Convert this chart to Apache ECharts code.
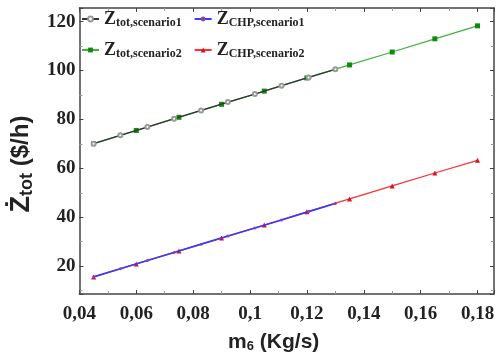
<!DOCTYPE html>
<html>
<head>
<meta charset="utf-8">
<script src="https://cdn.jsdelivr.net/npm/echarts@6/dist/echarts.min.js"></script>
<style>
  html, body { margin: 0; padding: 0; background: #fff; }
  #main { width: 499px; height: 358px; }
</style>
</head>
<body>
<div id="main"></div>
<script>
// m6 values (Kg/s)
var mScen1 = [0.045, 0.0544, 0.0639, 0.0733, 0.0828, 0.0922, 0.1017, 0.1111, 0.1206, 0.13];
var mScen2 = [0.045, 0.06, 0.075, 0.09, 0.105, 0.12, 0.135, 0.15, 0.165, 0.18];

// cost rates ($/h)
var zTotScen1 = [70.1, 73.5, 76.9, 80.3, 83.7, 87.1, 90.4, 93.8, 97.2, 100.5];
var zTotScen2 = [70.1, 75.5, 80.9, 86.2, 91.6, 97.0, 102.3, 107.6, 113.0, 118.3];
var zChpScen1 = [15.6, 18.9, 22.3, 25.6, 29.0, 32.3, 35.6, 38.9, 42.3, 45.6];
var zChpScen2 = [15.6, 20.9, 26.2, 31.5, 36.8, 42.2, 47.5, 52.8, 58.1, 63.3];

var seriesNames = ['Ztot,scenario1', 'ZCHP,scenario1', 'Ztot,scenario2', 'ZCHP,scenario2'];
var subTexts = ['tot,scenario1', 'CHP,scenario1', 'tot,scenario2', 'CHP,scenario2'];

function pairs(xs, ys) {
	var out = [];
	for (var i = 0; i < xs.length; i++) out.push([xs[i], ys[i]]);
	return out;
}

var myChart = echarts.init(document.getElementById('main'));

var serif = '"Liberation Serif", "Times New Roman", serif';
var sans = '"Liberation Sans", Arial, sans-serif';
var frame = '#444';

function xLabel(v) {
	return String(Math.round(v * 100) / 100).replace('.', ',');
}

var axisCommon = {
	axisLine: { show: true, lineStyle: { color: frame, width: 1.5 } },
	axisTick: { show: true, inside: true, length: 4, lineStyle: { color: frame } },
	minorTick: { show: true, splitNumber: 2, length: 3, lineStyle: { color: '#999' } },
	splitLine: { show: false }
};

var option = {
	animation: false,
	backgroundColor: '#fff',
	grid: { left: 75, right: 5, top: 8, bottom: 61 },
	legend: {
		data: seriesNames,
		left: 81,
		top: 10,
		width: 240,
		itemWidth: 17,
		itemHeight: 6,
		itemGap: 12,
		padding: 0,
		formatter: function(name) {
			var i = seriesNames.indexOf(name);
			return '{z|Z}{s|' + subTexts[i] + '}';
		},
		textStyle: {
			rich: {
				z: { fontFamily: serif, fontWeight: 'bold', fontSize: 18, color: '#222', lineHeight: 17 },
				s: { fontFamily: serif, fontWeight: 'bold', fontSize: 12, color: '#222', padding: [8, 0, 0, 0] }
			}
		}
	},
	xAxis: [
		Object.assign({}, axisCommon, {
			type: 'value',
			min: 0.04,
			max: 0.1858,
			interval: 0.02,
			name: '{m|m}{s|6}{m| (Kg/s)}',
			nameLocation: 'middle',
			nameGap: 37,
			nameTextStyle: {
				padding: [0, 26, 0, 0],
				rich: {
					m: { fontFamily: sans, fontWeight: 'bold', fontSize: 21, color: '#222' },
					s: { fontFamily: sans, fontWeight: 'bold', fontSize: 13, color: '#222', padding: [9, 0, 0, 0] }
				}
			},
			axisLabel: {
				margin: 11,
				showMaxLabel: false,
				fontFamily: serif,
				fontWeight: 'bold',
				fontSize: 19,
				color: '#222',
				formatter: xLabel
			}
		}),
		Object.assign({}, axisCommon, {
			type: 'value',
			position: 'top',
			min: 0.04,
			max: 0.1858,
			interval: 0.02,
			axisLabel: { show: false }
		})
	],
	yAxis: [
		Object.assign({}, axisCommon, {
			type: 'value',
			min: 8.6,
			max: 125.6,
			name: '{z|Ż}{s|tot}{u| ($/h)}',
			nameLocation: 'middle',
			nameGap: 43,
			nameRotate: 90,
			nameTextStyle: {
				padding: [0, 26, 0, 0],
				rich: {
					z: { fontFamily: sans, fontWeight: 'bold', fontSize: 27, color: '#222' },
					s: { fontFamily: sans, fontWeight: 'bold', fontSize: 18, color: '#222', padding: [11, 0, 0, 0] },
					u: { fontFamily: sans, fontWeight: 'bold', fontSize: 24, color: '#222' }
				}
			},
			axisLabel: {
				margin: 4,
				showMinLabel: false,
				showMaxLabel: false,
				fontFamily: serif,
				fontWeight: 'bold',
				fontSize: 19,
				color: '#222'
			}
		}),
		Object.assign({}, axisCommon, {
			type: 'value',
			position: 'right',
			min: 8.6,
			max: 125.6,
			axisLabel: { show: false }
		})
	],
	series: [
		{
			name: seriesNames[2],
			type: 'line',
			data: pairs(mScen2, zTotScen2),
			symbol: 'rect',
			symbolSize: 5,
			z: 2,
			lineStyle: { color: '#3fb43f', width: 1.3 },
			itemStyle: { color: '#118a11' }
		},
		{
			name: seriesNames[0],
			type: 'line',
			data: pairs(mScen1, zTotScen1),
			symbol: 'emptyCircle',
			symbolSize: 4,
			z: 3,
			lineStyle: { color: '#333', width: 1.3 },
			itemStyle: { color: '#999', borderWidth: 1 }
		},
		{
			name: seriesNames[3],
			type: 'line',
			data: pairs(mScen2, zChpScen2),
			symbol: 'triangle',
			symbolSize: 5,
			z: 2,
			lineStyle: { color: '#ff3030', width: 1.3 },
			itemStyle: { color: '#e01020' }
		},
		{
			name: seriesNames[1],
			type: 'line',
			data: pairs(mScen1, zChpScen1),
			symbol: 'circle',
			symbolSize: 3,
			z: 3,
			lineStyle: { color: '#3a3aff', width: 1.6 },
			itemStyle: { color: '#8844aa' }
		}
	]
};

myChart.setOption(option);
</script>
</body>
</html>
